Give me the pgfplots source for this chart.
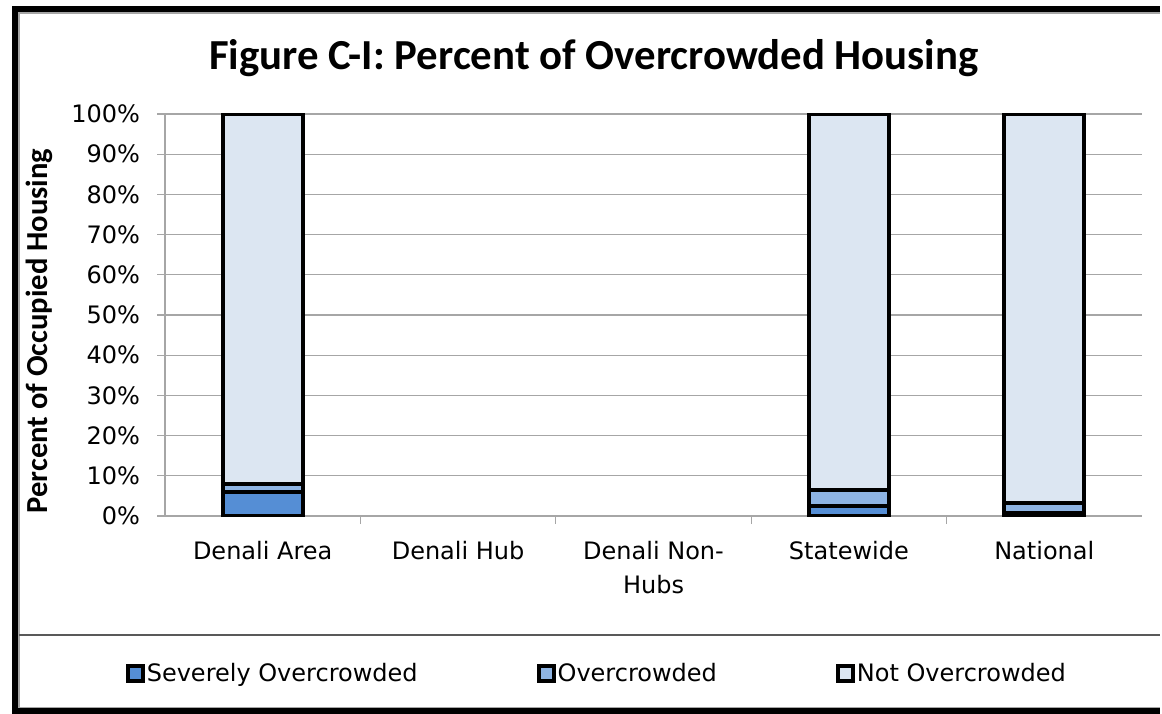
\documentclass[border=0pt]{standalone}
\usepackage{pgfplots}
\pgfplotsset{compat=1.18}
\usepackage{fontspec}
\setmainfont{DejaVu Sans}
\newfontfamily\carlito{Carlito}
\definecolor{sev}{HTML}{558ED5}
\definecolor{over}{HTML}{8EB4E3}
\definecolor{notc}{HTML}{DCE6F2}
\definecolor{gridc}{HTML}{A6A6A6}
\begin{document}
\begin{tikzpicture}
\useasboundingbox (0pt,0pt) rectangle (581pt,356.5pt);
% chart border (gray) and outer black frame
\draw[gray!70, line width=0.8pt] (580pt,350pt) -- (9.5pt,350pt) -- (9.5pt,2.5pt) -- (580pt,2.5pt);
\draw[black, line width=3pt] (580pt,352pt) -- (7.5pt,352pt) -- (7.5pt,0.8pt) -- (580pt,0.8pt);
% legend separator
\draw[gray!70!black, line width=0.8pt] (9.5pt,39pt) -- (580pt,39pt);
% title
\node[anchor=base, font=\carlito\bfseries\fontsize{21.4}{24}\selectfont] at (297pt,321.5pt) {Figure C-I: Percent of Overcrowded Housing};
% y label
\node[rotate=90, anchor=center, font=\carlito\bfseries\fontsize{15.3}{18}\selectfont] at (19.5pt,191pt) {Percent of Occupied Housing};
\begin{axis}[
  at={(82.5pt,98.5pt)}, anchor=south west,
  scale only axis, width=488.5pt, height=201pt,
  ybar stacked, bar width=0.41,
  xmin=-0.5, xmax=4.5, ymin=0, ymax=100,
  axis lines*=left,
  axis line style={gridc, line width=0.6pt},
  xtick={0,1,2,3,4},
  xticklabels={Denali Area, Denali Hub, {Denali Non-\\Hubs}, Statewide, National},
  major x tick style={draw=none},
  minor xtick={0.5,1.5,2.5,3.5},
  minor x tick style={gridc, line width=0.6pt},
  minor tick length=4pt,
  ytick={0,10,...,100},
  yticklabels={0\%,10\%,20\%,30\%,40\%,50\%,60\%,70\%,80\%,90\%,100\%},
  major tick length=4pt,
  major y tick style={gridc, line width=0.6pt},
  tick align=outside,
  ymajorgrids, grid style={gridc, line width=0.6pt},
  ticklabel style={font=\fontsize{12}{17}\selectfont},
  xticklabel style={align=center, yshift=-5pt},
  yticklabel style={xshift=-5pt},
  every axis plot/.append style={draw=black, line width=2pt},
  legend image code/.code={\draw[#1,line width=2pt] (0pt,-3.75pt) rectangle (7.5pt,3.75pt);},
  legend columns=3,
  legend style={draw=none, fill=none, at={(0.4420,-0.3930)}, anchor=center,
    font=\fontsize{12}{14}\selectfont,
    nodes={inner sep=1pt},
    /tikz/every even column/.append style={column sep=58.5pt}},
]
\addplot[fill=sev] coordinates {(0,6.0) (3,2.6) (4,0.8)};
\addplot[fill=over] coordinates {(0,2.0) (3,3.8) (4,2.4)};
\addplot[fill=notc] coordinates {(0,92.0) (3,93.6) (4,96.8)};
\legend{Severely Overcrowded, Overcrowded, Not Overcrowded}
\end{axis}
\end{tikzpicture}
\end{document}
